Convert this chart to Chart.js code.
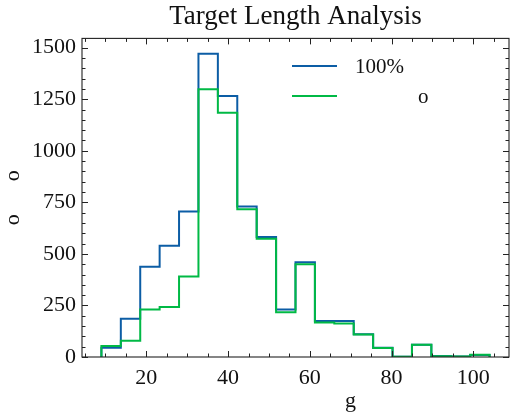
<!DOCTYPE html>
<html>
<head>
<meta charset="utf-8">
<script src="https://cdn.jsdelivr.net/npm/chart.js@4/dist/chart.umd.min.js"></script>
<style>
  html, body { margin: 0; padding: 0; background: #fff; }
  #wrap { width: 511px; height: 414px; }
</style>
</head>
<body>
<div id="wrap"><canvas id="c" width="511" height="414"></canvas></div>
<script>
// ---- data ----
const binEdges = [9, 13.75, 18.5, 23.25, 28, 32.75, 37.5, 42.25, 47, 51.75, 56.5, 61.25, 66, 70.75, 75.5, 80.25, 85, 89.75, 94.5, 99.25, 104];
const countsAll = [45, 185, 438, 540, 706, 1471, 1266, 730, 582, 230, 460, 175, 175, 110, 45, 1, 60, 5, 3, 10];
const countsSub = [53, 79, 230, 243, 390, 1299, 1184, 717, 574, 217, 450, 167, 163, 109, 44, 1, 60, 4, 3, 11];
const seriesNames = ["100%", "\u2003\u2003\u2003o"];
const xMajorTicks = [20, 40, 60, 80, 100];
const xMinorTicks = [5, 10, 15, 25, 30, 35, 45, 50, 55, 65, 70, 75, 85, 90, 95, 105];
const yMajorTicks = [0, 250, 500, 750, 1000, 1250, 1500];
const yMinorTicks = [50, 100, 150, 200, 300, 350, 400, 450, 550, 600, 650, 700, 800, 850, 900, 950, 1050, 1100, 1150, 1200, 1300, 1350, 1400, 1450, 1500];
const titleText = "Target Length Analysis";
const xLabel = "\u2003\u2003\u2003\u2003\u2003g";
const yLabel = "o\u2003\u2002o";

const colors = ["#0C5DA5", "#00B945"];
const FONT = "'Liberation Serif', 'DejaVu Serif', serif";

function stepPoints(edges, counts) {
  const pts = [{x: edges[0], y: 0}];
  for (let i = 0; i < counts.length; i++) {
    pts.push({x: edges[i], y: counts[i]});
    pts.push({x: edges[i + 1], y: counts[i]});
  }
  pts.push({x: edges[edges.length - 1], y: 0});
  return pts;
}

const frameTicks = {
  id: 'frameTicks',
  afterDatasetsDraw(chart) {
    const {ctx, chartArea: a, scales: {x, y}} = chart;
    ctx.save();
    ctx.strokeStyle = '#222';
    ctx.lineWidth = 1.1;
    ctx.strokeRect(a.left, a.top, a.right - a.left, a.bottom - a.top);
    const drawX = (vals, len) => {
      vals.forEach(v => {
        const px = Math.round(x.getPixelForValue(v)) + 0.5;
        if (px < a.left || px > a.right) return;
        ctx.beginPath();
        ctx.moveTo(px, a.bottom); ctx.lineTo(px, a.bottom - len);
        ctx.moveTo(px, a.top); ctx.lineTo(px, a.top + len);
        ctx.stroke();
      });
    };
    const drawY = (vals, len) => {
      vals.forEach(v => {
        const py = Math.round(y.getPixelForValue(v)) + 0.5;
        if (py < a.top - 0.5 || py > a.bottom + 0.5) return;
        ctx.beginPath();
        ctx.moveTo(a.left, py); ctx.lineTo(a.left + len, py);
        ctx.moveTo(a.right, py); ctx.lineTo(a.right - len, py);
        ctx.stroke();
      });
    };
    ctx.lineWidth = 1;
    drawX(xMajorTicks, 6); drawX(xMinorTicks, 3.5);
    drawY(yMajorTicks, 6); drawY(yMinorTicks, 3.5);

    // legend
    ctx.font = "21px " + FONT;
    ctx.textBaseline = 'middle';
    ctx.fillStyle = '#111';
    const rows = [66, 96];
    [0, 1].forEach(i => {
      ctx.strokeStyle = colors[i];
      ctx.lineWidth = 2;
      ctx.beginPath();
      ctx.moveTo(292, rows[i]); ctx.lineTo(337, rows[i]);
      ctx.stroke();
      ctx.fillText(seriesNames[i], 355, rows[i] + 1);
    });
    ctx.restore();
  }
};

new Chart(document.getElementById('c'), {
  type: 'line',
  data: {
    datasets: [
      { label: seriesNames[0], data: stepPoints(binEdges, countsAll), borderColor: colors[0], borderWidth: 2, pointRadius: 0, fill: false, tension: 0, order: 1 },
      { label: seriesNames[1], data: stepPoints(binEdges, countsSub), borderColor: colors[1], borderWidth: 2, pointRadius: 0, fill: false, tension: 0, order: 0 }
    ]
  },
  options: {
    responsive: false,
    animation: false,
    layout: { padding: { left: 0, right: 2, top: 0, bottom: 0 } },
    plugins: {
      legend: { display: false },
      tooltip: { enabled: false },
      title: {
        display: true, text: titleText, fullSize: false,
        color: '#111',
        font: { family: FONT, size: 27, weight: 'normal' },
        padding: { top: 1, bottom: 5 }
      }
    },
    scales: {
      x: {
        type: 'linear', min: 4.25, max: 108.75,
        afterBuildTicks: s => { s.ticks = xMajorTicks.map(v => ({value: v})); },
        afterFit: s => { s.height = 57; },
        grid: { display: false, drawTicks: false },
        border: { display: false },
        ticks: { color: '#111', font: { family: FONT, size: 22 }, padding: 8, maxRotation: 0, autoSkip: false, callback: v => String(v) },
        title: { display: true, text: xLabel, color: '#111', font: { family: FONT, size: 22 }, padding: { top: 2, bottom: 0 } }
      },
      y: {
        type: 'linear', min: 0, max: 1545,
        afterBuildTicks: s => { s.ticks = yMajorTicks.map(v => ({value: v})); },
        afterFit: s => { s.width = 82; },
        grid: { display: false, drawTicks: false },
        border: { display: false },
        ticks: { color: '#111', font: { family: FONT, size: 22 }, padding: 6, autoSkip: false, callback: v => String(v) },
        title: { display: true, text: yLabel, color: '#111', font: { family: FONT, size: 22 }, padding: { top: 0, bottom: 2 } }
      }
    }
  },
  plugins: [frameTicks]
});
</script>
</body>
</html>
